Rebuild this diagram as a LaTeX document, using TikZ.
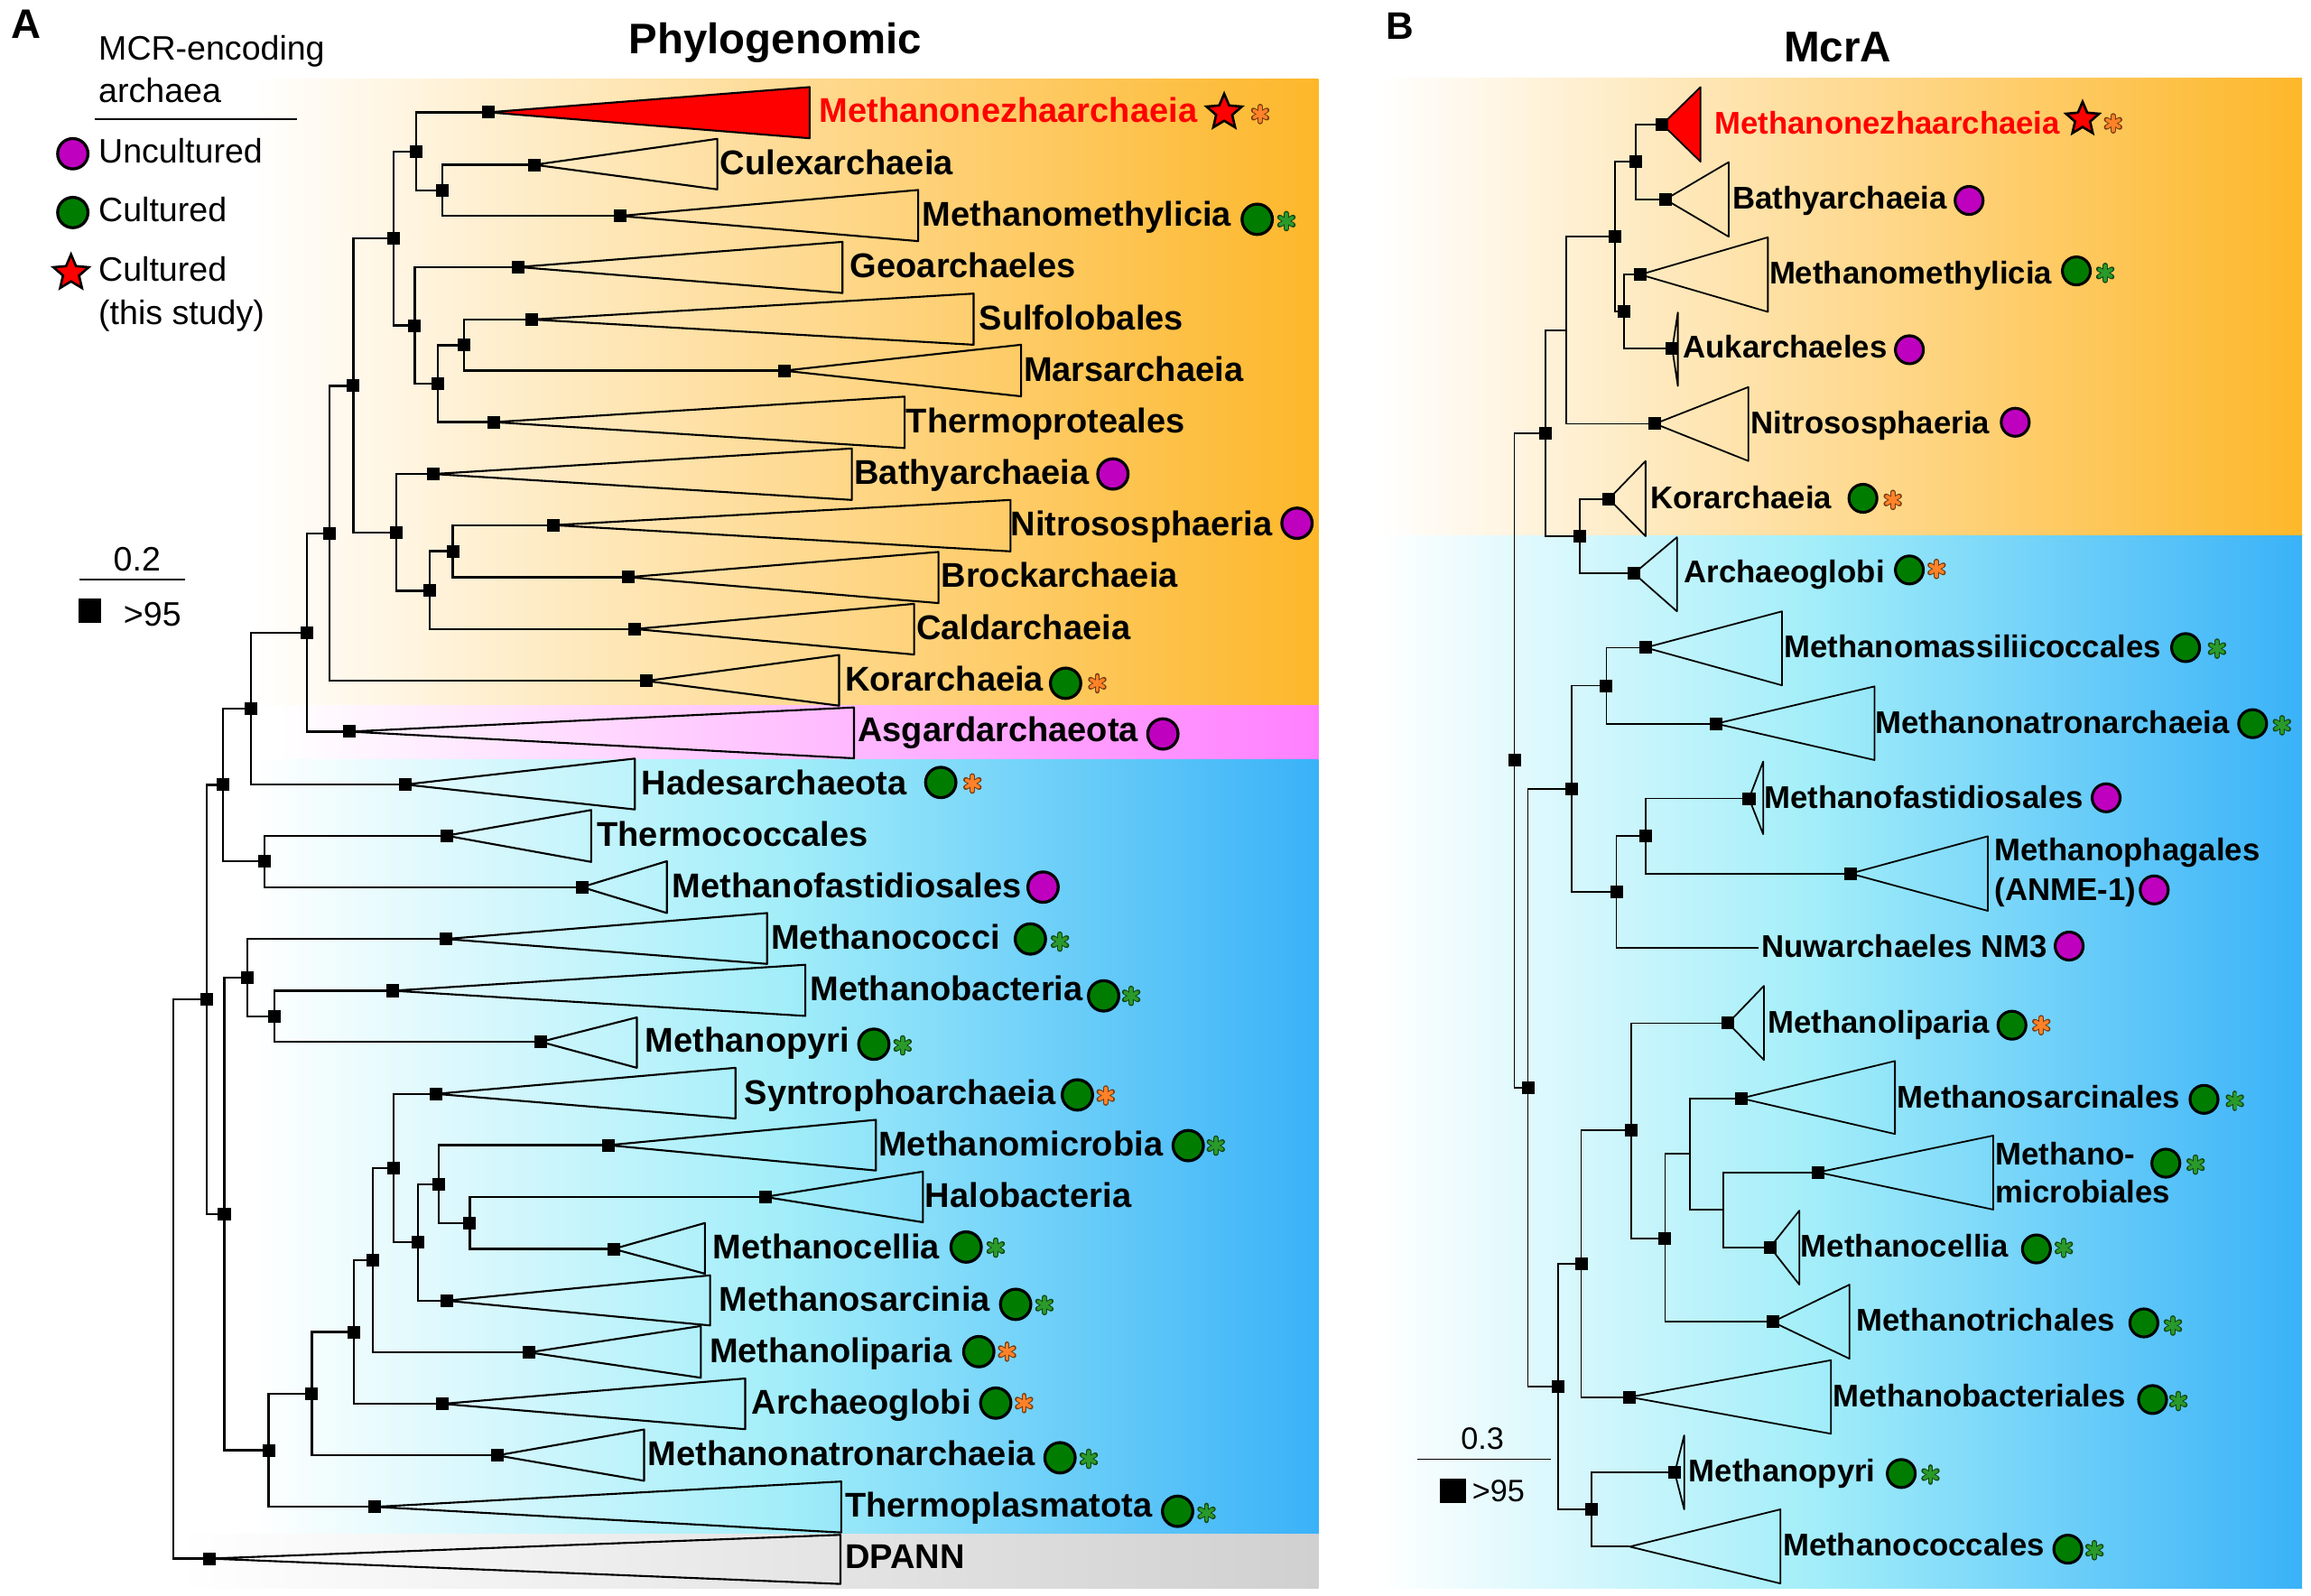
\documentclass[tikz,border=0pt]{standalone}
\usepackage{fontspec}
\setmainfont{Liberation Sans}
\usetikzlibrary{shapes.geometric}
\definecolor{orngR}{HTML}{FDB72A}
\definecolor{pinkR}{HTML}{FF80FF}
\definecolor{cyanM}{HTML}{A3EEF9}
\definecolor{blueR}{HTML}{3AB2F8}
\definecolor{greyR}{HTML}{D0D0D0}
\definecolor{mag}{HTML}{BF00BF}
\definecolor{grn}{HTML}{007D00}
\definecolor{astO}{HTML}{FF8228}
\definecolor{astG}{HTML}{2A9A2A}
\tikzset{pics/ast/.style={code={
  \foreach \a in {90,30,150}{\draw[line width=1.75pt, #1!45!black, line cap=round] (\a:5.2) -- (\a+180:5.2);}
  \foreach \a in {90,30,150}{\draw[line width=1.15pt, #1, line cap=round] (\a:4.9) -- (\a+180:4.9);}
}}}
\begin{document}
\begin{tikzpicture}[x=0.5pt,y=-0.5pt,
  br/.style={line width=0.72pt},
  brb/.style={line width=0.55pt},
  tri/.style={line width=0.65pt, line join=round},
  trib/.style={line width=0.55pt, line join=round},
  sq/.style={rectangle, fill=black, minimum size=4.3pt, inner sep=0pt},
  la/.style={anchor=base west, inner sep=0pt, font=\fontsize{11.65pt}{13pt}\selectfont\bfseries},
  lb/.style={anchor=base west, inner sep=0pt, font=\fontsize{10.65pt}{12pt}\selectfont\bfseries},
  lg/.style={anchor=base west, inner sep=0pt, font=\fontsize{11.5pt}{13pt}\selectfont},
  lgb/.style={anchor=base west, inner sep=0pt, font=\fontsize{10.5pt}{12pt}\selectfont},
  cmA/.style={circle, draw=black, line width=1pt, minimum size=10.3pt, inner sep=0pt},
  cmB/.style={circle, draw=black, line width=0.95pt, minimum size=9.5pt, inner sep=0pt},
  stA/.style={star, star points=5, star point ratio=2.2, draw=black, fill=red, line width=0.8pt, minimum size=12.6pt, inner sep=0pt},
  stB/.style={star, star points=5, star point ratio=2.2, draw=black, fill=red, line width=0.8pt, minimum size=11.8pt, inner sep=0pt}
]
\useasboundingbox (0,0) rectangle (1568,1082.3);
% ---------- background bands ----------
\shade[left color=white, right color=orngR] (170,53.4) rectangle (894.6,478.8);
\shade[left color=white, right color=pinkR] (190,478.8) rectangle (894.6,515.6);
\shade[left color=white, right color=cyanM] (170,515.6) rectangle (530,1041);
\shade[left color=cyanM, right color=blueR] (529.5,515.6) rectangle (894.6,1041);
\shade[left color=white, right color=greyR] (120,1041) rectangle (894.6,1077.6);
\shade[left color=white, right color=orngR] (935,52.7) rectangle (1562,363.8);
\shade[left color=white, right color=cyanM] (935,363.8) rectangle (1230,1077.8);
\shade[left color=cyanM, right color=blueR] (1229.5,363.8) rectangle (1562,1077.8);
% ---------- titles ----------
\node[anchor=base west, inner sep=0pt, font=\fontsize{14pt}{16pt}\selectfont\bfseries] (pA) at (7,25.8) {A};
\node[anchor=base west, inner sep=0pt, font=\fontsize{13pt}{15pt}\selectfont\bfseries] (pB) at (940,26.4) {B};
\node[anchor=base west, inner sep=0pt, font=\fontsize{14.5pt}{16pt}\selectfont\bfseries] (tA) at (426.5,36.3) {Phylogenomic};
\node[anchor=base west, inner sep=0pt, font=\fontsize{14.6pt}{16pt}\selectfont\bfseries] (tB) at (1210,42.2) {McrA};
% ---------- legend ----------
\node[lg] (lg1) at (66.5,41) {MCR-encoding};
\node[lg] (lg2) at (66.5,69.6) {archaea};
\coordinate (ul1) at (64.6,80.9); \coordinate (ul2) at (201.8,80.9);
\draw[line width=0.7pt] (ul1) -- (ul2);
\node[cmA,fill=mag] (lgc1) at (49.4,104.3) {};
\node[lg] (lg3) at (66.5,110.6) {Uncultured};
\node[cmA,fill=grn] (lgc2) at (49.4,144.2) {};
\node[lg] (lg4) at (66.5,150.5) {Cultured};
\node[stA] (lgs) at (48.2,185.2) {};
\node[lg] (lg5) at (66.5,191) {Cultured};
\node[lg] (lg6) at (66.5,220.3) {(this study)};
% scale A
\node[lg, anchor=base] (scA) at (93,387.4) {0.2};
\coordinate (sa1) at (54,393.3); \coordinate (sa2) at (125.7,393.3);
\draw[line width=0.75pt] (sa1) -- (sa2);
\fill (53.1,406.2) rectangle (68.9,422.6);
\node[lg] (scA2) at (83.5,424.9) {>95};
% scale B
\node[lgb, anchor=base] (scB) at (1005.8,983.6) {0.3};
\coordinate (sb1) at (961.5,990.1); \coordinate (sb2) at (1052,990.1);
\draw[line width=0.55pt] (sb1) -- (sb2);
\fill (977,1003.3) rectangle (994.5,1020);
\node[lgb] (scB2) at (998.5,1018.9) {>95};
% ---------- tree A coordinates ----------
\coordinate (mnz) at (331.6,76.2);
\coordinate (cul) at (362.6,111.8);
\coordinate (mmy) at (420.6,146.5);
\coordinate (geo) at (351.7,181.2);
\coordinate (sul) at (360.9,216.8);
\coordinate (mar) at (532.0,251.5);
\coordinate (thp) at (334.8,286.4);
\coordinate (bat) at (294.0,321.6);
\coordinate (nit) at (375.5,356.3);
\coordinate (bro) at (426.3,391.6);
\coordinate (cal) at (430.7,426.8);
\coordinate (kor) at (438.4,462.0);
\coordinate (asg) at (237.1,496.4);
\coordinate (had) at (274.8,532.3);
\coordinate (thc) at (302.9,567.0);
\coordinate (mfa) at (394.8,601.9);
\coordinate (mcc) at (302.3,637.1);
\coordinate (mba) at (266.4,672.2);
\coordinate (mpy) at (366.9,706.9);
\coordinate (syn) at (295.7,742.2);
\coordinate (mmi) at (412.6,777.0);
\coordinate (hal) at (519.1,812.1);
\coordinate (mce) at (416.3,847.4);
\coordinate (msa) at (302.9,882.5);
\coordinate (mli) at (358.9,917.6);
\coordinate (arg) at (300.3,952.5);
\coordinate (mna) at (337.3,987.5);
\coordinate (tpl) at (254.4,1022.4);
\coordinate (dpa) at (142.1,1057.5);
\coordinate (n1) at (282.2,102.7);
\coordinate (n2) at (300.0,129.2);
\coordinate (n3) at (267.0,161.7);
\coordinate (n4) at (281.4,220.9);
\coordinate (n5) at (297.2,260.2);
\coordinate (n6) at (314.9,234.2);
\coordinate (n7) at (239.7,261.8);
\coordinate (n8) at (269.0,361.2);
\coordinate (n9) at (291.4,400.8);
\coordinate (n10) at (307.2,374.0);
\coordinate (n11) at (208.1,429.2);
\coordinate (n12) at (223.4,361.9);
\coordinate (n13) at (170.2,480.7);
\coordinate (n14) at (151.3,532.5);
\coordinate (n15) at (179.4,584.5);
\coordinate (n16) at (140.1,678.0);
\coordinate (n17) at (152.2,823.8);
\coordinate (n18) at (167.7,663.5);
\coordinate (n19) at (182.3,984.0);
\coordinate (n20) at (186.0,689.6);
\coordinate (n21) at (211.6,945.6);
\coordinate (n22) at (240.0,903.8);
\coordinate (n23) at (252.9,855.1);
\coordinate (n24) at (267.0,792.6);
\coordinate (n25) at (283.4,842.9);
\coordinate (n26) at (297.7,803.4);
\coordinate (n27) at (318.7,829.8);
\coordinate (rootA) at (117.7,867.8);
\foreach \p/\c in {n1/mnz,n1/n2,n2/cul,n2/mmy,n3/n1,n3/n4,n4/geo,n4/n5,n5/n6,n5/thp,n6/sul,n6/mar,
  n7/n3,n7/n8,n8/bat,n8/n9,n9/n10,n9/cal,n10/nit,n10/bro,n12/n7,n12/kor,n11/n12,n11/asg,n13/n11,n13/had,
  n14/n13,n14/n15,n15/thc,n15/mfa,n16/n14,n16/n17,n17/n18,n17/n19,n18/mcc,n18/n20,n20/mba,n20/mpy,
  n19/n21,n19/tpl,n21/n22,n21/mna,n22/n23,n22/arg,n23/n24,n23/mli,n24/syn,n24/n25,n25/n26,n25/msa,
  n26/mmi,n26/n27,n27/hal,n27/mce,rootA/n16,rootA/dpa}
  \draw[br] (\p) |- (\c);
% triangles A
\draw[tri,fill=red] (mnz) -- (549.3,59.1) -- (549.3,93.8) -- cycle;
\draw[tri] (cul) -- (486.7,94.2) -- (486.7,128.5) -- cycle;
\draw[tri] (mmy) -- (623.0,128.9) -- (623.0,163.6) -- cycle;
\draw[tri] (geo) -- (571.6,164.1) -- (571.6,198.8) -- cycle;
\draw[tri] (sul) -- (660.6,199.2) -- (660.6,233.9) -- cycle;
\draw[tri] (mar) -- (692.8,233.9) -- (692.8,268.9) -- cycle;
\draw[tri] (thp) -- (613.8,269.1) -- (613.8,304.0) -- cycle;
\draw[tri] (bat) -- (578.0,304.3) -- (578.0,339.2) -- cycle;
\draw[tri] (nit) -- (685.6,339.2) -- (685.6,374.1) -- cycle;
\draw[tri] (bro) -- (636.8,374.5) -- (636.8,409.2) -- cycle;
\draw[tri] (cal) -- (620.2,409.7) -- (620.2,444.1) -- cycle;
\draw[tri] (kor) -- (569.3,444.4) -- (569.3,478.8) -- cycle;
\draw[tri] (asg) -- (579.4,480.0) -- (579.4,514.5) -- cycle;
\draw[tri] (had) -- (430.7,514.7) -- (430.7,549.2) -- cycle;
\draw[tri] (thc) -- (401.1,549.6) -- (401.1,584.8) -- cycle;
\draw[tri] (mfa) -- (452.5,584.3) -- (452.5,619.5) -- cycle;
\draw[tri] (mcc) -- (520.5,619.5) -- (520.5,654.0) -- cycle;
\draw[tri] (mba) -- (546.4,654.6) -- (546.4,689.3) -- cycle;
\draw[tri] (mpy) -- (432.1,690.3) -- (432.1,724.5) -- cycle;
\draw[tri] (syn) -- (499.0,724.5) -- (499.0,758.9) -- cycle;
\draw[tri] (mmi) -- (594.3,759.8) -- (594.3,794.2) -- cycle;
\draw[tri] (hal) -- (626.2,794.9) -- (626.2,829.3) -- cycle;
\draw[tri] (mce) -- (478.3,829.8) -- (478.3,864.2) -- cycle;
\draw[tri] (msa) -- (481.8,865.3) -- (481.8,899.3) -- cycle;
\draw[tri] (mli) -- (475.5,899.7) -- (475.5,934.8) -- cycle;
\draw[tri] (arg) -- (505.6,935.3) -- (505.6,969.7) -- cycle;
\draw[tri] (mna) -- (437.0,969.9) -- (437.0,1004.7) -- cycle;
\draw[tri] (tpl) -- (570.8,1005.2) -- (570.8,1039.8) -- cycle;
\draw[tri] (dpa) -- (570.2,1041.4) -- (570.2,1074.7) -- cycle;
\foreach \c in {mnz,cul,mmy,geo,sul,mar,thp,bat,nit,bro,cal,kor,asg,had,thc,mfa,mcc,mba,mpy,syn,mmi,hal,mce,msa,mli,arg,mna,tpl,dpa,
  n1,n2,n3,n4,n5,n6,n7,n8,n9,n10,n11,n12,n13,n14,n15,n16,n17,n18,n19,n20,n21,n22,n23,n24,n25,n26,n27}
  \node[sq] (s-\c) at (\c) {};
% labels A
\node[la,text=red] (l-mnz) at (555.5,83.2) {Methanonezhaarchaeia};
\node[la] (l-cul) at (488.3,118.8) {Culexarchaeia};
\node[la] (l-mmy) at (625.3,153.5) {Methanomethylicia};
\node[la] (l-geo) at (576.5,188.2) {Geoarchaeles};
\node[la] (l-sul) at (664.0,223.8) {Sulfolobales};
\node[la] (l-mar) at (694.2,258.5) {Marsarchaeia};
\node[la] (l-thp) at (614.4,293.4) {Thermoproteales};
\node[la] (l-bat) at (579.3,328.6) {Bathyarchaeia};
\node[la] (l-nit) at (685.5,363.3) {Nitrososphaeria};
\node[la] (l-bro) at (638.2,398.6) {Brockarchaeia};
\node[la] (l-cal) at (621.5,433.8) {Caldarchaeia};
\node[la] (l-kor) at (573.0,469.0) {Korarchaeia};
\node[la] (l-asg) at (581.6,503.4) {Asgardarchaeota};
\node[la] (l-had) at (434.9,539.3) {Hadesarchaeota};
\node[la] (l-thc) at (404.7,574.0) {Thermococcales};
\node[la] (l-mfa) at (455.9,608.9) {Methanofastidiosales};
\node[la] (l-mcc) at (522.8,644.1) {Methanococci};
\node[la] (l-mba) at (549.2,679.2) {Methanobacteria};
\node[la] (l-mpy) at (437.5,713.9) {Methanopyri};
\node[la] (l-syn) at (504.7,749.2) {Syntrophoarchaeia};
\node[la] (l-mmi) at (595.7,784.0) {Methanomicrobia};
\node[la] (l-hal) at (627.3,819.1) {Halobacteria};
\node[la] (l-mce) at (483.2,854.4) {Methanocellia};
\node[la] (l-msa) at (487.5,889.5) {Methanosarcinia};
\node[la] (l-mli) at (481.1,924.6) {Methanoliparia};
\node[la] (l-arg) at (509.6,959.5) {Archaeoglobi};
\node[la] (l-mna) at (439.2,994.5) {Methanonatronarchaeia};
\node[la] (l-tpl) at (573.0,1029.4) {Thermoplasmatota};
\node[la] (l-dpa) at (573.0,1064.5) {DPANN};
% markers A
\node[stA] (k-mnz) at (830.6,76.2) {};
\pic at (855,77.4) {ast=astO};
\node[cmA,fill=grn] (k-mmy) at (853,148.8) {}; \pic at (872.8,150) {ast=astG};
\node[cmA,fill=mag] (k-bat) at (755.1,321.6) {};
\node[cmA,fill=mag] (k-nit) at (880,355) {};
\node[cmA,fill=grn] (k-kor) at (723,463.6) {}; \pic at (744.5,463.6) {ast=astO};
\node[cmA,fill=mag] (k-asg) at (789,498) {};
\node[cmA,fill=grn] (k-had) at (638.3,530.9) {}; \pic at (659.8,531.6) {ast=astO};
\node[cmA,fill=mag] (k-mfa) at (707.7,601.9) {};
\node[cmA,fill=grn] (k-mcc) at (699.1,637.1) {}; \pic at (719.2,638.9) {ast=astG};
\node[cmA,fill=grn] (k-mba) at (748.8,675.7) {}; \pic at (767.5,675.7) {ast=astG};
\node[cmA,fill=grn] (k-mpy) at (592.9,708.5) {}; \pic at (612.4,709.3) {ast=astG};
\node[cmA,fill=grn] (k-syn) at (731,742.9) {}; \pic at (750.2,743.3) {ast=astO};
\node[cmA,fill=grn] (k-mmi) at (806.2,777.3) {}; \pic at (824.9,777.3) {ast=astG};
\node[cmA,fill=grn] (k-mce) at (655.5,846.1) {}; \pic at (675.6,846.5) {ast=astG};
\node[cmA,fill=grn] (k-msa) at (689.1,885) {}; \pic at (708.6,885.5) {ast=astG};
\node[cmA,fill=grn] (k-mli) at (664.1,917.1) {}; \pic at (683.3,917.1) {ast=astO};
\node[cmA,fill=grn] (k-arg) at (675.6,952) {}; \pic at (694.8,952) {ast=astO};
\node[cmA,fill=grn] (k-mna) at (719.2,989.1) {}; \pic at (738.7,989.8) {ast=astG};
\node[cmA,fill=grn] (k-tpl) at (799,1025.4) {}; \pic at (818.6,1026.5) {ast=astG};
% ---------- tree B ----------
\coordinate (bmnz) at (1127.8,84.4);
\coordinate (bbat) at (1129.9,135.3);
\coordinate (bmmy) at (1112.9,186.3);
\coordinate (bauk) at (1134.6,236.6);
\coordinate (bnit) at (1122.9,287.5);
\coordinate (bkor) at (1091.6,338.5);
\coordinate (barg) at (1108.6,389.1);
\coordinate (bmms) at (1116.5,439.4);
\coordinate (bmna) at (1164.4,491.0);
\coordinate (bmfa) at (1186.7,541.8);
\coordinate (bmph) at (1255.5,592.7);
\coordinate (bnuw) at (1193.1,643.0);
\coordinate (bmli) at (1172.5,694.2);
\coordinate (bmsa) at (1181.4,745.2);
\coordinate (bmmb) at (1233.5,795.4);
\coordinate (bmce) at (1201.0,846.3);
\coordinate (bmtr) at (1202.7,896.9);
\coordinate (bmbc) at (1105.8,947.9);
\coordinate (bmpy) at (1136.3,999.2);
\coordinate (bmco) at (1105.8,1049.4);
\coordinate (b1) at (1109.7,109.8);
\coordinate (b2) at (1095.8,160.7);
\coordinate (b3) at (1102.0,211.5);
\coordinate (b4) at (1062.8,224.0);
\coordinate (b5) at (1048.8,293.8);
\coordinate (b6) at (1071.8,363.8);
\coordinate (b7) at (1027.5,516.0);
\coordinate (b8) at (1036.7,738.2);
\coordinate (b9) at (1066.5,535.3);
\coordinate (b10) at (1057.3,941.0);
\coordinate (b11) at (1089.9,465.2);
\coordinate (b12) at (1096.7,605.2);
\coordinate (b13) at (1116.5,567.3);
\coordinate (b14) at (1072.8,857.5);
\coordinate (b15) at (1079.7,1024.3);
\coordinate (b16) at (1106.9,767.0);
\coordinate (b17) at (1129.7,840.1);
\coordinate (b18) at (1146.7,783.0);
\coordinate (b19) at (1169.1,820.9);
\foreach \p/\c in {b1/bmnz,b1/bbat,b3/bmmy,b3/bauk,b2/b1,b2/b3,b4/b2,b4/bnit,b6/bkor,b6/barg,b5/b4,b5/b6,
  b7/b5,b7/b8,b8/b9,b8/b10,b9/b11,b9/b12,b11/bmms,b11/bmna,b12/b13,b12/bnuw,b13/bmfa,b13/bmph,
  b10/b14,b10/b15,b14/b16,b14/bmbc,b16/bmli,b16/b17,b17/b18,b17/bmtr,b18/bmsa,b18/b19,b19/bmmb,b19/bmce,
  b15/bmpy,b15/bmco}
  \draw[brb] (\p) |- (\c);
\draw[trib,fill=red] (bmnz) -- (1153.8,59.1) -- (1153.8,109.7) -- cycle;
\draw[trib] (bbat) -- (1172.9,110.0) -- (1172.9,160.6) -- cycle;
\draw[trib] (bmmy) -- (1199.5,161.0) -- (1199.5,211.6) -- cycle;
\draw[trib] (bauk) -- (1138.4,212.0) -- (1138.4,261.9) -- cycle;
\draw[trib] (bnit) -- (1186.3,262.6) -- (1186.3,312.8) -- cycle;
\draw[trib] (bkor) -- (1116.5,312.8) -- (1116.5,363.8) -- cycle;
\draw[trib] (barg) -- (1137.8,364.5) -- (1137.8,414.8) -- cycle;
\draw[trib] (bmms) -- (1209.1,414.8) -- (1209.1,465.0) -- cycle;
\draw[trib] (bmna) -- (1271.9,465.7) -- (1271.9,515.7) -- cycle;
\draw[trib] (bmfa) -- (1196.3,516.7) -- (1196.3,566.0) -- cycle;
\draw[trib] (bmph) -- (1348.7,567.4) -- (1348.7,618.0) -- cycle;
\draw[trib] (bmli) -- (1196.8,668.9) -- (1196.8,719.2) -- cycle;
\draw[trib] (bmsa) -- (1285.7,719.9) -- (1285.7,769.4) -- cycle;
\draw[trib] (bmmb) -- (1352.4,770.5) -- (1352.4,820.7) -- cycle;
\draw[trib] (bmce) -- (1220.8,821.4) -- (1220.8,871.6) -- cycle;
\draw[trib] (bmtr) -- (1254.9,871.6) -- (1254.9,921.9) -- cycle;
\draw[trib] (bmbc) -- (1242.3,922.9) -- (1242.3,972.8) -- cycle;
\draw[trib] (bmpy) -- (1142.7,973.9) -- (1142.7,1024.1) -- cycle;
\draw[trib] (bmco) -- (1208.0,1024.1) -- (1208.0,1074.4) -- cycle;
\foreach \c in {bmnz,bbat,bmmy,bauk,bnit,bkor,barg,bmms,bmna,bmfa,bmph,bmli,bmsa,bmmb,bmce,bmtr,bmbc,bmpy,
  b1,b2,b3,b5,b6,b7,b8,b9,b10,b11,b12,b13,b14,b15,b16,b17}
  \node[sq] (s-\c) at (\c) {};
% labels B
\node[lb,text=red] (l-bmnz) at (1162.9,90.9) {Methanonezhaarchaeia};
\node[lb] (l-bbat) at (1175.0,141.8) {Bathyarchaeia};
\node[lb] (l-bmmy) at (1200.1,192.8) {Methanomethylicia};
\node[lb] (l-bauk) at (1141.6,243.1) {Aukarchaeles};
\node[lb] (l-bnit) at (1187.4,294.0) {Nitrososphaeria};
\node[lb] (l-bkor) at (1119.3,345.0) {Korarchaeia};
\node[lb] (l-barg) at (1142.2,395.6) {Archaeoglobi};
\node[lb] (l-bmms) at (1210.2,445.9) {Methanomassiliicoccales};
\node[lb] (l-bmna) at (1272.1,497.5) {Methanonatronarchaeia};
\node[lb] (l-bmfa) at (1196.5,548.3) {Methanofastidiosales};
\node[lb] (l-bmph) at (1353.0,584.0) {Methanophagales};
\node[lb] (l-bmph2) at (1353.0,611.0) {(ANME-1)};
\node[lb] (l-bnuw) at (1194.8,649.5) {Nuwarchaeles NM3};
\node[lb] (l-bmli) at (1199.1,700.7) {Methanoliparia};
\node[lb] (l-bmsa) at (1287.0,751.7) {Methanosarcinales};
\node[lb] (l-bmmb) at (1353.6,790.2) {Methano-};
\node[lb] (l-bmmb2) at (1353.6,816.2) {microbiales};
\node[lb] (l-bmce) at (1221.5,852.8) {Methanocellia};
\node[lb] (l-bmtr) at (1259.3,903.4) {Methanotrichales};
\node[lb] (l-bmbc) at (1243.3,954.4) {Methanobacteriales};
\node[lb] (l-bmpy) at (1145.5,1005.7) {Methanopyri};
\node[lb] (l-bmco) at (1209.3,1055.9) {Methanococcales};
% markers B
\node[stB] (k-bmnz) at (1413,80.8) {}; \pic at (1433.7,83.7) {ast=astO};
\node[cmB,fill=mag] (k-bbat) at (1336,136) {};
\node[cmB,fill=grn] (k-bmmy) at (1408.8,183.8) {}; \pic at (1428.4,185.2) {ast=astG};
\node[cmB,fill=mag] (k-bauk) at (1295.5,237.3) {};
\node[cmB,fill=mag] (k-bnit) at (1367.3,286.5) {};
\node[cmB,fill=grn] (k-bkor) at (1264,338.1) {}; \pic at (1284.2,339.2) {ast=astO};
\node[cmB,fill=grn] (k-barg) at (1295.5,386.7) {}; \pic at (1314,386) {ast=astO};
\node[cmB,fill=grn] (k-bmms) at (1482.9,439.4) {}; \pic at (1504.2,440.1) {ast=astG};
\node[cmB,fill=grn] (k-bmna) at (1528.4,491) {}; \pic at (1548.2,492.1) {ast=astG};
\node[cmB,fill=mag] (k-bmfa) at (1429,541.3) {};
\node[cmB,fill=mag] (k-bmph) at (1461.6,603.8) {};
\node[cmB,fill=mag] (k-bnuw) at (1403.9,641.9) {};
\node[cmB,fill=grn] (k-bmli) at (1365.1,695.6) {}; \pic at (1385,695.6) {ast=astO};
\node[cmB,fill=grn] (k-bmsa) at (1495.4,745.9) {}; \pic at (1516.3,746.9) {ast=astG};
\node[cmB,fill=grn] (k-bmmb) at (1469.5,789.2) {}; \pic at (1489.7,790.2) {ast=astG};
\node[cmB,fill=grn] (k-bmce) at (1381.7,847.4) {}; \pic at (1400.3,846.7) {ast=astG};
\node[cmB,fill=grn] (k-bmtr) at (1454.6,897.6) {}; \pic at (1474.3,899.4) {ast=astG};
\node[cmB,fill=grn] (k-bmbc) at (1460.5,949.6) {}; \pic at (1478,950.6) {ast=astG};
\node[cmB,fill=grn] (k-bmpy) at (1290,999.8) {}; \pic at (1309.8,1000.5) {ast=astG};
\node[cmB,fill=grn] (k-bmco) at (1403,1051.1) {}; \pic at (1421.1,1051.8) {ast=astG};
\end{tikzpicture}
\end{document}
